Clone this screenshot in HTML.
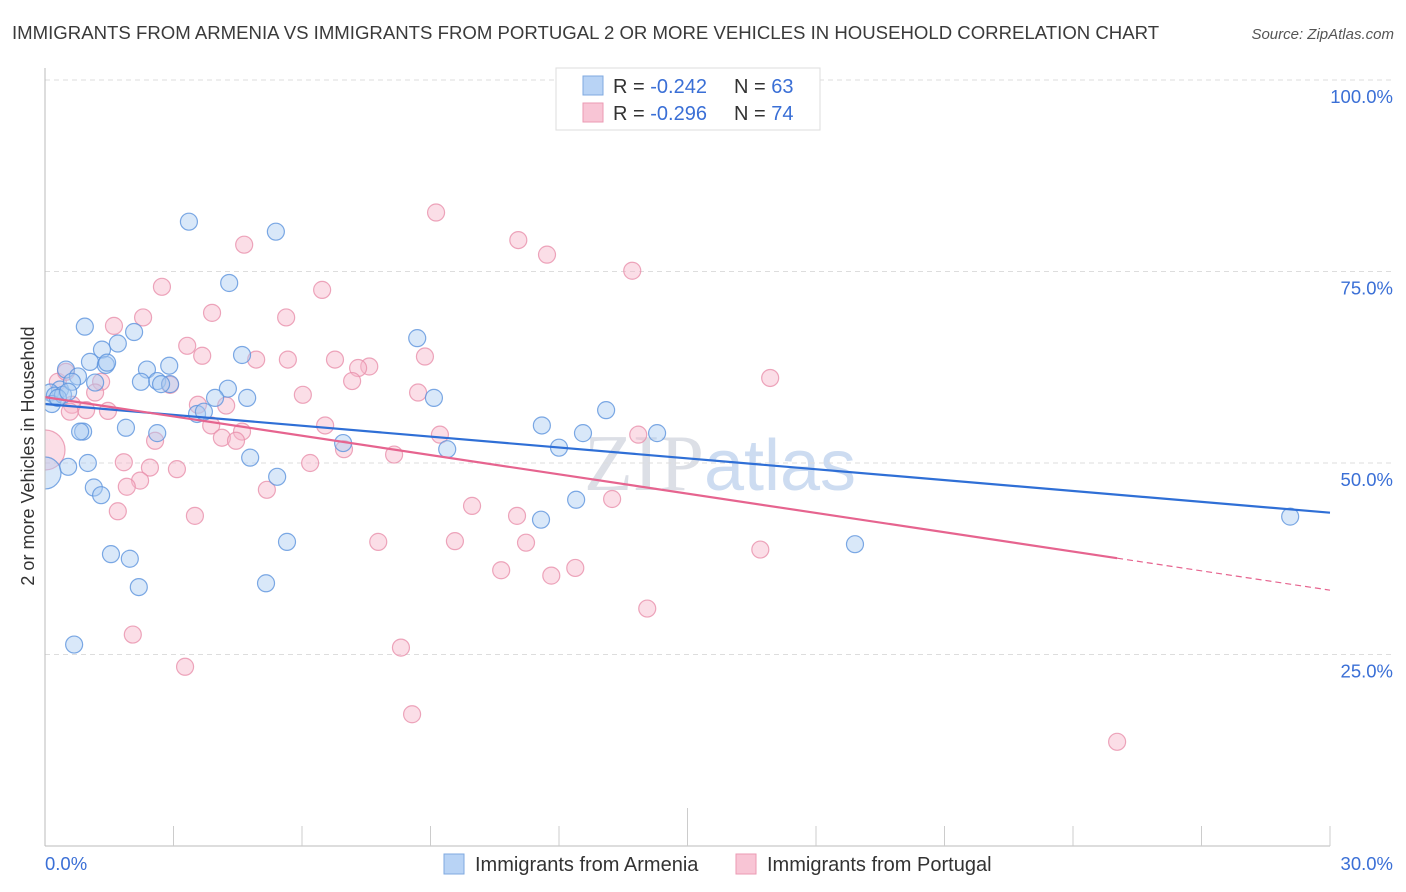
<!DOCTYPE html>
<html><head><meta charset="utf-8"><style>
body{margin:0;background:#fff;font-family:"Liberation Sans",sans-serif;}
#wrap{position:relative;width:1406px;height:892px;overflow:hidden;}
#chart{position:absolute;left:0;top:0;}
</style></head><body>
<div id="wrap">
<svg id="chart" width="1406" height="892">
<text x="12" y="39" font-size="18.6" fill="#3a3a3a">IMMIGRANTS FROM ARMENIA VS IMMIGRANTS FROM PORTUGAL 2 OR MORE VEHICLES IN HOUSEHOLD CORRELATION CHART</text>
<text x="1394" y="39" font-size="15" fill="#555" font-style="italic" text-anchor="end">Source: ZipAtlas.com</text>
<text x="720" y="490" font-size="80" fill="#dcdfe6" text-anchor="middle" font-family="Liberation Serif,serif">ZIP<tspan font-family="Liberation Sans,sans-serif" font-size="72" fill="#cddcf1">atlas</tspan></text>
<g id="grid"></g>
<svg x="45.5" y="0" width="1360" height="892" viewBox="45.5 0 1360 892" overflow="hidden"><g id="marks"></g></svg>
<g id="lines"></g>
<line x1="45" x2="45" y1="68" y2="846" stroke="#bbb"/>
<text transform="translate(34,456) rotate(-90)" font-size="18" fill="#333" text-anchor="middle">2 or more Vehicles in Household</text>
<g>
<rect x="556" y="68" width="264" height="62" fill="#fff" stroke="#ddd"/>
<rect x="583" y="76" width="20" height="19" fill="#b8d3f5" stroke="#7fa9e0"/>
<rect x="583" y="103" width="20" height="19" fill="#f8c5d5" stroke="#eb9ab3"/>
<text x="613" y="93" font-size="20" fill="#333">R = <tspan fill="#3a6fd6">-0.242</tspan><tspan x="734">N = </tspan><tspan fill="#3a6fd6">63</tspan></text>
<text x="613" y="120" font-size="20" fill="#333">R = <tspan fill="#3a6fd6">-0.296</tspan><tspan x="734">N = </tspan><tspan fill="#3a6fd6">74</tspan></text>
</g>
<g>
<rect x="444" y="854" width="20" height="20" fill="#b8d3f5" stroke="#7fa9e0"/>
<text x="475" y="871" font-size="20" fill="#333">Immigrants from Armenia</text>
<rect x="736" y="854" width="20" height="20" fill="#f8c5d5" stroke="#eb9ab3"/>
<text x="767" y="871" font-size="20" fill="#333">Immigrants from Portugal</text>
</g>
</svg></div>
<script>
const yTicks=[100,75,50,25];
const yTickLabels=["100.0%","75.0%","50.0%","25.0%"];
const xTickLabels=["0.0%","30.0%"];
const blueX=[3.36,5.39,4.30,0.93,2.08,1.70,1.33,4.60,8.69,1.05,1.42,2.38,2.90,0.49,0.77,2.24,2.62,2.92,1.17,4.27,3.97,4.72,9.08,0.35,0.12,0.23,0.16,13.10,3.55,1.89,0.89,2.62,11.60,12.56,14.29,6.96,9.39,12.00,4.79,0.54,1.00,0.0,5.42,1.14,1.31,12.40,11.58,5.65,1.54,1.98,18.91,2.19,5.16,0.68,29.07,0.82,0.42,0.63,0.30,1.45,2.71,0.54,3.71];
const blueY=[81.5,80.2,73.5,67.8,67.1,65.6,64.8,64.1,66.3,63.2,62.8,62.2,62.7,62.2,61.3,60.6,60.7,60.3,60.5,59.7,58.5,58.5,58.5,59.6,59.2,58.8,57.7,56.9,56.4,54.6,54.1,53.9,54.9,53.9,53.9,52.6,51.8,52.0,50.7,49.5,50.0,48.7,48.2,46.8,45.8,45.2,42.6,39.7,38.1,37.5,39.4,33.8,34.3,26.3,43.0,54.1,58.9,60.6,58.5,63.1,60.3,59.3,56.7];
const pinkX=[9.13,11.05,11.72,4.65,13.71,2.73,6.47,2.29,3.90,5.63,1.61,3.32,3.67,4.93,5.67,6.77,7.57,8.87,7.31,16.93,7.17,1.31,0.30,0.49,2.92,6.02,8.71,1.17,3.57,4.23,0.63,0.96,1.47,0.58,3.88,4.60,6.54,2.57,4.13,4.46,6.98,8.15,9.22,13.85,0.0,1.84,2.45,3.08,6.19,2.22,1.91,5.18,13.24,9.97,1.70,3.50,11.02,7.78,9.57,11.23,16.70,10.65,12.38,11.82,14.06,2.05,8.31,3.27,8.57,25.03];
const pinkY=[82.7,79.1,77.2,78.5,75.1,73.0,72.6,69.0,69.6,69.0,67.9,65.3,64.0,63.5,63.5,63.5,62.6,63.9,62.4,61.1,60.7,60.6,60.6,61.9,60.2,58.9,59.2,59.2,57.6,57.5,57.6,56.9,56.8,56.7,54.9,54.1,54.9,52.9,53.3,52.9,51.8,51.1,53.7,53.7,51.7,50.1,49.4,49.2,50.0,47.7,46.9,46.5,45.3,44.4,43.7,43.1,43.1,39.7,39.8,39.6,38.7,36.0,36.3,35.3,31.0,27.6,25.9,23.4,17.2,13.6];
const bigBlue=41, bigPink=44;
const trendBlue=[57.7,-0.473];
const trendPink=[58.6,-0.84];
const pinkSolidEnd=25.03;
const NS="http://www.w3.org/2000/svg";
const X=v=>45+v/30*1285, Y=v=>846-v/100*766;
function mk(t,a,p){const e=document.createElementNS(NS,t);for(const k in a)e.setAttribute(k,a[k]);p.appendChild(e);return e;}
const grid=document.getElementById('grid'),marks=document.getElementById('marks'),lines=document.getElementById('lines');
yTicks.forEach((t,i)=>{
 const l=mk('line',{x1:45,x2:1395,y1:Y(t),y2:Y(t),stroke:'#ddd','stroke-dasharray':'5,4'},grid);
 
 
 const tx=mk('text',{x:1393,y:Y(t)+23,'font-size':18.5,fill:'#3a6fd6','text-anchor':'end'},grid);
 tx.textContent=yTickLabels[i];
 
 
});
mk('line',{x1:45,x2:1330,y1:846,y2:846,stroke:'#bbb'},grid);
for(let i=0;i<=10;i++){const x=X(i*3);mk('line',{x1:x,x2:x,y1:i==5?808:826,y2:846,stroke:'#ccc'},grid);}
const xl0=mk('text',{x:45,y:870,'font-size':18.5,fill:'#3a6fd6'},grid);xl0.textContent=xTickLabels[0];


const xl1=mk('text',{x:1393,y:870,'font-size':18.5,fill:'#3a6fd6','text-anchor':'end'},grid);xl1.textContent=xTickLabels[1];


function pts(xs,ys,fill,stroke,big,name){xs.forEach((v,i)=>{
 const c=mk('circle',{cx:X(v),cy:Y(ys[i]),r:i===big?(name=='pink-point'?20:16):8.5,fill:fill,'fill-opacity':0.45,stroke:stroke,'stroke-opacity':0.8,'stroke-width':1.2},marks);
 
 
});}
pts(pinkX,pinkY,'#f6b6c9','#e890ab',bigPink,'pink-point');
pts(blueX,blueY,'#aacbf2','#5d93dd',bigBlue,'blue-point');
const bl=mk('line',{x1:X(0),y1:Y(trendBlue[0]),x2:X(30),y2:Y(trendBlue[0]+trendBlue[1]*30),stroke:'#2f6fd6','stroke-width':2.2},lines);


const pl=mk('line',{x1:X(0),y1:Y(trendPink[0]),x2:X(pinkSolidEnd),y2:Y(trendPink[0]+trendPink[1]*pinkSolidEnd),stroke:'#e6648f','stroke-width':2.2},lines);


const pd=mk('line',{x1:X(pinkSolidEnd),y1:Y(trendPink[0]+trendPink[1]*pinkSolidEnd),x2:X(30),y2:Y(trendPink[0]+trendPink[1]*30),stroke:'#e6648f','stroke-width':1.2,'stroke-dasharray':'6,4'},lines);


</script>
</body></html>
